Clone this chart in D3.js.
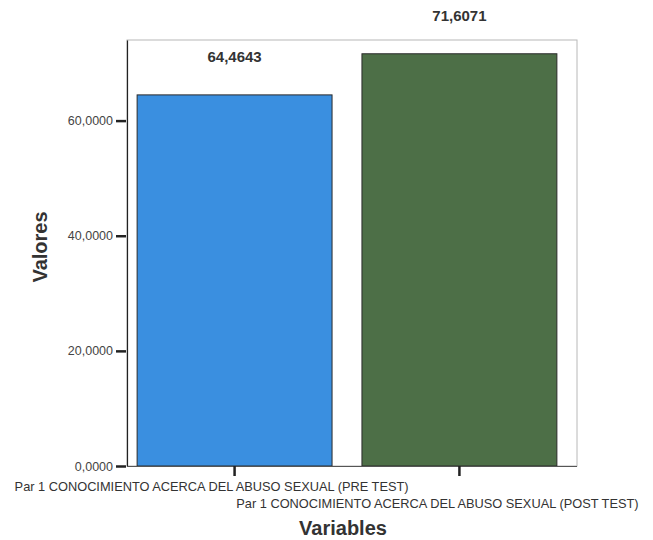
<!DOCTYPE html>
<html>
<head>
<meta charset="utf-8">
<script src="https://cdn.jsdelivr.net/npm/d3@7"></script>
<style>
  html, body { margin: 0; padding: 0; background: #ffffff; }
  svg { display: block; font-family: "Liberation Sans", Arial, sans-serif; }
</style>
</head>
<body>
<svg id="chart" width="653" height="540"></svg>
<script>
const categories = [
  "Par 1 CONOCIMIENTO ACERCA DEL ABUSO SEXUAL (PRE TEST)",
  "Par 1 CONOCIMIENTO ACERCA DEL ABUSO SEXUAL (POST TEST)"
];
const values = [64.4643, 71.6071];
const valueLabels = ["64,4643", "71,6071"];
const yTicks = [0, 20, 40, 60];
const yTickLabels = ["0,0000", "20,0000", "40,0000", "60,0000"];
const barColors = ["#3a8fe0", "#4d6f47"];
const yTitle = "Valores";
const xTitle = "Variables";

const svg = d3.select("#chart");
const pLeft = 127, pRight = 577, pTop = 40, pBottom = 466;

const x = d3.scaleBand().domain(categories).range([127, 567]).paddingInner(0.133).paddingOuter(0.045);
const y = d3.scaleLinear().domain([0, 74]).range([pBottom, pTop]);

// frame
svg.append("rect").attr("x", pLeft).attr("y", pTop).attr("width", pRight - pLeft).attr("height", pBottom - pTop)
  .attr("fill", "none").attr("stroke", "#b8b8b8").attr("stroke-width", 1);

// bars
svg.selectAll("rect.bar").data(values).join("rect").attr("class", "bar")
  .attr("x", (d, i) => x(categories[i]))
  .attr("y", d => y(d))
  .attr("width", x.bandwidth())
  .attr("height", d => pBottom - y(d))
  .attr("fill", (d, i) => barColors[i])
  .attr("stroke", "#2a2a2a").attr("stroke-width", 1);

// value labels
svg.selectAll("text.val").data(values).join("text").attr("class", "val")
  .attr("x", (d, i) => x(categories[i]) + x.bandwidth() / 2)
  .attr("y", d => y(d) - 33)
  .attr("text-anchor", "middle")
  .attr("font-size", 15).attr("font-weight", "bold").attr("fill", "#333")
  .text((d, i) => valueLabels[i]);

// y axis
const yAxis = d3.axisLeft(y).tickValues(yTicks).tickFormat((d, i) => yTickLabels[i])
  .tickSizeInner(10).tickSizeOuter(0).tickPadding(4);
const gy = svg.append("g").attr("transform", `translate(${pLeft},0)`).call(yAxis);
gy.select(".domain").attr("stroke", "#222").attr("stroke-width", 1.2);
gy.selectAll(".tick line").attr("stroke", "#222").attr("stroke-width", 2.5).attr("x2", -11).attr("x1", -1);
gy.selectAll(".tick text").attr("font-size", 12.5).attr("fill", "#444").attr("font-family", "Liberation Sans, Arial, sans-serif");

// x axis
const xAxis = d3.axisBottom(x).tickSizeInner(10).tickSizeOuter(0).tickFormat("");
const gx = svg.append("g").attr("transform", `translate(0,${pBottom})`).call(xAxis);
gx.select(".domain").attr("d", `M${pLeft},0.5H${pRight}`).attr("stroke", "#555").attr("stroke-width", 1.2);
gx.selectAll(".tick line").attr("stroke", "#222").attr("stroke-width", 2.5);

// category labels (staggered)
const labelOffsets = [-23, -22];
const labelY = [491, 508];
svg.selectAll("text.cat").data(categories).join("text").attr("class", "cat")
  .attr("x", (d, i) => x(d) + x.bandwidth() / 2 + labelOffsets[i])
  .attr("y", (d, i) => labelY[i])
  .attr("text-anchor", "middle")
  .attr("font-size", 12.8).attr("fill", "#333")
  .text(d => d);

// axis titles
svg.append("text").attr("x", 343).attr("y", 535).attr("text-anchor", "middle")
  .attr("font-size", 20).attr("font-weight", "bold").attr("fill", "#333").text(xTitle);
svg.append("text").attr("transform", "translate(47,247) rotate(-90)").attr("text-anchor", "middle")
  .attr("font-size", 20).attr("font-weight", "bold").attr("fill", "#333").text(yTitle);
</script>
</body>
</html>
